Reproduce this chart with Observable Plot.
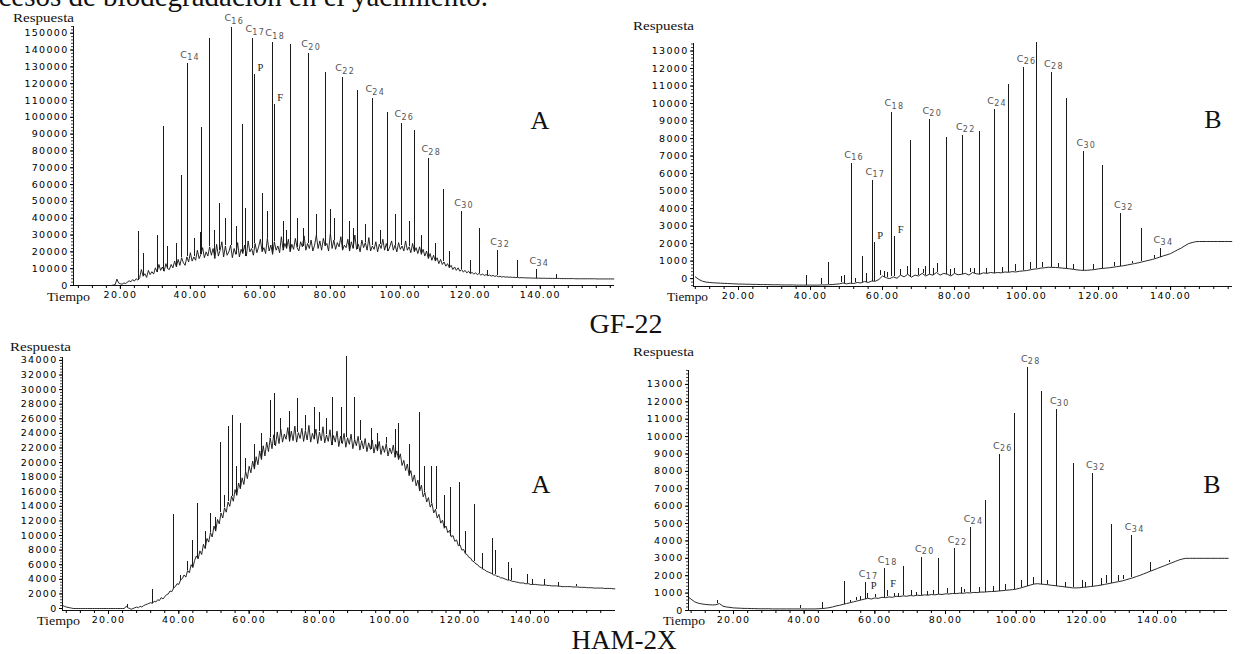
<!DOCTYPE html>
<html><head><meta charset="utf-8">
<script src="https://cdn.jsdelivr.net/npm/d3@7"></script>
<script src="https://cdn.jsdelivr.net/npm/@observablehq/plot@0.6"></script>
<style>
body{margin:0;background:#fff}
#wrap{position:relative;width:1241px;height:654px;overflow:hidden;background:#fff}
#wrap svg{position:absolute;overflow:visible}
</style></head><body><div id="wrap"></div>
<script>
// ---------- shared tick values ----------
const xTickLabels = [20, 40, 60, 80, 100, 120, 140];
const xMinorTicks = [8,12,16,20,24,28,32,36,40,44,48,52,56,60,64,68,72,76,80,84,88,92,96,100,104,108,112,116,120,124,128,132,136,140,144,148,152,156,160];

// ---------- GF-22 A (top left) : trace in thousands, every 0.5 min from 16 ----------
const tlStart = 16, tlStep = 0.5, tlUnit = 1000;
const tlValues = [0,0,0,0,0.3,0.5,3.8,1.5,1.0,0.8,
 1.5,1.2,2.0,2.8,2.2,3.5,2.6,4.0,3.2,4.5,
 9.5,5.5,7.0,4.8,9.0,6.5,8.2,6.8,10.5,8.0,
 12.5,9.0,11.0,8.5,13.0,10.0,9.5,12.5,10.5,14.5,
 11.0,15.5,12.0,16.5,13.5,12.0,17.0,14.0,19.5,14.5,
 17.0,15.0,21.0,16.0,18.5,22.5,16.5,20.0,17.5,23.0,
 18.0,22.0,16.0,24.5,17.5,21.0,26.0,17.0,23.5,18.0,
 20.0,24.0,16.5,22.0,18.5,25.5,17.0,21.5,19.0,24.0,
 17.5,26.5,20.0,22.0,18.0,25.0,19.5,23.0,27.5,20.0,
 22.5,19.0,28.0,20.5,24.0,18.5,26.0,21.0,23.5,19.5,
 29.0,21.0,25.0,22.0,27.5,20.0,24.5,21.5,28.0,22.5,
 20.5,26.0,23.0,29.5,21.0,25.0,22.0,27.0,20.5,24.0,
 30.0,22.0,26.5,21.0,28.0,23.5,25.0,20.5,31.0,22.0,
 27.0,21.5,25.5,23.0,29.0,21.0,24.0,22.5,27.5,20.5,
 26.0,22.0,30.0,21.5,24.5,20.0,27.0,22.5,25.5,21.0,
 28.5,20.5,23.5,21.5,26.0,20.0,24.5,22.0,27.5,21.0,
 25.0,20.5,23.0,26.5,21.0,24.0,20.0,25.5,21.5,23.5,
 20.5,26.5,21.0,23.0,19.5,25.0,20.0,22.5,19.0,23.0,
 18.5,21.5,17.5,20.5,16.0,19.0,15.0,18.0,14.5,16.5,
 13.0,15.5,12.5,14.0,11.5,13.0,10.5,12.0,9.5,11.0,
 9.0,10.5,8.5,9.5,8.0,9.0,7.5,8.5,7.0,7.8,
 6.8,7.5,6.5,7.2,6.2,6.8,6.0,6.5,5.8,6.2,
 5.6,6.0,5.4,5.8,5.2,5.5,5.0,5.3,5.0,5.1,
 4.9,5.0,4.8,4.9,4.7,4.8,4.6,4.7,4.6,4.6,
 4.5,4.5,4.5,4.4,4.4,4.4,4.3,4.4,4.3,4.3,
 4.3,4.3,4.2,4.3,4.2,4.2,4.2,4.2,4.2,4.2,
 4.1,4.1,4.1,4.1,4.1,4.1,4.1,4.1,4.0,4.0,
 4.0,4.0,4.0,4.0,4.0,4.0,4.0,4.0,4.0,4.0,
 3.9,3.9,3.9,3.9,3.9,3.9,3.9,3.9,3.9,3.9,
 3.9];
const tlPeaks = [[25.2,32000],[26.6,19000],[30.5,30000],[32.3,94600],[33.6,23000],[36.0,25000],[37.4,65500],
 [39.1,132000,"C14"],[41.2,28000],[42.9,31500],[43.1,94000],[45.4,147000],[47.0,33000],[48.3,49000],[50.0,40000],[51.7,153600,"C16"],
 [53.2,35000],[54.9,95800],[55.8,46000],[57.7,147000,"C17"],[58.3,125600,"P"],[60.6,55000],[62.0,44000],[63.4,144600,"C18"],
 [64.0,107700,"F"],[66.5,38000],[67.4,33000],[68.6,143500],[70.5,40000],[72.2,34000],[73.7,138000,"C20"],[76.0,42000],[78.6,126800],
 [80.0,45000],[81.2,40000],[83.4,123800,"C22"],[85.5,38000],[86.6,34000],[87.7,116000],[90.0,36000],[92.0,111300,"C24"],
 [94.2,33000],[96.3,103000],[98.5,42000],[100.3,96400,"C26"],[102.5,38000],[104.0,92300],[106.0,30000],[108.0,75600,"C28"],
 [110.0,25000],[112.3,57100],[114.0,20000],[117.4,44000,"C30"],[120.0,15000],[122.5,34000],[125.0,9000],
 [127.7,20800,"C32"],[133.4,14900],[138.9,9500,"C34"],[144.6,6500]];
const tlYTicks = [0,10000,20000,30000,40000,50000,60000,70000,80000,90000,100000,110000,120000,130000,140000,150000];
const tlYMinor = d3.range(0, 154001, 2000);

// ---------- GF-22 B (top right) : every 1 min from 8 ----------
const trStart = 8, trStep = 1, trUnit = 1;
const trValues = [100,-50,-150,-200,-220,-240,-250,-260,-270,-280,
 -290,-300,-310,-310,-320,-320,-330,-330,-340,-340,
 -340,-350,-350,-350,-360,-360,-360,-360,-370,-370,
 -370,-370,-370,-370,-370,-360,-360,-350,-340,-320,
 -300,-250,-300,-260,-280,-220,-250,-160,-220,-140,
 -150,-50,150,50,0,100,20,200,100,250,
 80,200,150,300,150,250,200,350,200,300,
 250,150,300,220,250,300,200,350,280,250,
 330,300,350,320,350,330,380,360,400,380,
 420,440,460,500,540,560,600,620,650,640,
 640,620,600,580,560,530,500,480,470,480,
 500,520,560,580,600,620,650,680,710,740,
 780,820,860,900,950,1000,1050,1100,1160,1230,
 1300,1360,1430,1540,1650,1750,1880,2000,2060,2110,
 2120,2120,2120,2120,2120,2120,2120,2120,2120,2120];
const trPeaks = [[38.9,200],[43.0,0],[45.1,900],[48.5,100],[49.5,150],[51.3,6570,"C16"],[52.6,0],[54.4,1250],[55.5,300],
 [57.2,5600,"C17"],[57.7,2050,"P"],[59.5,450],[60.5,400],[61.4,350],[62.5,9500,"C18"],[63.4,2400,"F"],[65.0,500],[66.8,700],
 [67.9,7900],[70.0,600],[71.3,500],[72.0,700],[73.0,9080,"C20"],[74.2,600],[75.3,860],[77.7,8040],[79.0,500],[80.0,600],[82.3,8170,"C22"],
 [84.5,600],[85.6,550],[86.8,8400],[89.0,600],[91.0,9660,"C24"],[93.2,650],[95.0,11080],[97.0,800],[99.2,12060,"C26"],[101.0,900],
 [102.8,13490],[104.5,900],[106.8,11770,"C28"],[109.0,850],[111.0,10290],[113.0,800],[115.8,7260,"C30"],
 [118.6,800],[121.1,6460],[124.5,900],[126.2,3700,"C32"],[129.5,1000],[131.8,2860],[135.5,1300],[137.2,1700,"C34"]];
const trYTicks = [0,1000,2000,3000,4000,5000,6000,7000,8000,9000,10000,11000,12000,13000];
const trYMinor = d3.range(-400, 13401, 200);

// ---------- HAM-2X A (bottom left) : trace in thousands, every 0.5 min from 7 ----------
const blStart = 7, blStep = 0.5, blUnit = 1000;
const blValues = [0.4,0.3,0.2,0.15,0.1,0.05,0,0,0,0,
 0,0,0,0,0,0,0,0,0,0,
 0,0,0,0,0,0,0,0,0,0,
 0,0,0,0,0,0,0.3,0.1,0,-0.1,
 0,0.1,0.2,0.1,0.3,0.2,0.4,0.5,0.6,0.7,
 0.8,0.7,1.0,0.9,1.2,1.1,1.5,1.3,1.6,1.9,
 2.0,2.4,2.3,2.8,3.0,3.4,3.3,3.9,4.1,4.6,
 4.3,5.2,4.9,6.0,5.6,6.6,7.2,6.8,7.9,7.4,
 8.8,8.2,9.6,9.1,10.4,9.8,11.3,10.6,12.2,11.6,
 13.1,12.4,13.8,13.2,14.6,14.0,15.4,14.7,16.3,15.5,
 17.2,16.4,17.9,17.0,18.8,17.8,19.5,18.6,20.2,19.1,
 20.8,19.7,21.6,20.4,22.3,20.9,22.8,21.5,23.4,21.9,
 23.8,22.3,24.2,22.6,24.6,22.8,23.9,23.2,24.8,22.9,
 24.3,23.0,25.0,22.8,24.1,23.3,24.7,22.9,24.4,23.1,
 25.1,22.8,24.0,23.2,24.6,22.6,24.2,23.0,24.9,22.7,
 23.8,22.9,24.5,22.4,23.7,22.8,24.3,22.2,23.6,22.6,
 24.0,22.1,23.4,22.5,23.9,21.9,23.2,22.3,23.6,21.7,
 23.0,21.9,23.3,21.5,22.7,21.8,23.1,21.3,22.5,21.6,
 22.9,21.1,22.3,21.4,22.6,20.9,22.0,21.2,22.4,20.7,
 21.6,20.4,21.2,19.6,20.3,18.9,19.8,18.2,18.9,17.4,
 18.3,16.8,17.6,16.1,16.9,15.3,15.9,14.6,15.2,13.9,
 14.4,13.1,13.6,12.4,12.9,11.7,12.1,11.0,11.3,10.4,
 10.7,9.8,10.0,9.2,9.4,8.6,8.7,8.0,8.1,7.5,
 7.4,7.0,6.9,6.5,6.4,6.1,6.0,5.7,5.6,5.4,
 5.3,5.1,5.0,4.9,4.8,4.6,4.6,4.4,4.4,4.2,
 4.2,4.1,4.0,3.9,3.9,3.8,3.7,3.7,3.6,3.6,
 3.5,3.5,3.5,3.4,3.4,3.4,3.3,3.3,3.3,3.3,
 3.25,3.25,3.2,3.2,3.2,3.2,3.15,3.15,3.1,3.1,
 3.1,3.1,3.05,3.05,3.0,3.0,3.0,3.0,3.0,3.0,
 2.95,2.95,2.95,2.95,2.9,2.9,2.9,2.9,2.85,2.85,
 2.85,2.85,2.8,2.8,2.8,2.8,2.8,2.8,2.75,2.75,
 2.75,2.75,2.75,2.7,2.7];
const blPeaks = [[25.5,600],[32.5,2600],[38.6,12900],[40.5,4500],[42.5,6500],[43.8,9300],[45.3,14400],[47.5,10500],
 [49.0,13000],[50.5,12500],[51.8,22700],[53.0,15500],[54.2,25000],[55.2,26400],[56.5,19500],[57.6,25300],
 [59.0,20500],[61.5,22500],[63.5,24000],[66.0,28500],[67.3,29400],[69.0,26000],[71.5,27000],[73.8,28800],
 [76.0,26500],[78.5,27500],[80.0,26800],[82.0,26000],[83.6,28900],[86.4,27500],[87.8,34600],[90.1,28900],
 [91.8,25700],[94.7,24700],[96.5,24000],[99.0,23500],[101.5,24500],[102.6,25300],[105.5,22500],[108.5,26800],
 [110.0,19500],[112.0,19400],[113.2,19400],[115.5,15500],[117.4,16600],[119.7,17300],[121.5,10500],[124.2,14200],
 [126.5,7500],[129.3,9600],[130.0,8000],[133.9,6300],[134.5,5500],[139.3,4700],[140.5,4000],[144.0,4000],
 [148.0,3500],[153.0,3300]];
const blYTicks = [0,2000,4000,6000,8000,10000,12000,14000,16000,18000,20000,22000,24000,26000,28000,30000,32000,34000];
const blYMinor = d3.range(0, 34401, 400);

// ---------- HAM-2X B (bottom right) : every 1 min from 7 ----------
const brStart = 7, brStep = 1, brUnit = 1;
const brValues = [800,650,500,420,380,350,330,320,330,400,
 250,200,180,150,140,130,120,120,110,110,
 100,100,100,100,90,90,90,90,90,90,
 90,90,90,90,90,90,90,100,110,130,
 160,200,260,300,350,400,450,500,550,600,
 650,700,660,720,700,760,740,780,760,820,
 800,840,820,860,840,880,860,900,880,920,
 900,940,920,960,950,980,970,1000,990,1020,
 1010,1040,1030,1060,1060,1080,1090,1100,1120,1140,
 1160,1180,1200,1230,1280,1340,1400,1460,1520,1540,
 1520,1500,1480,1450,1430,1400,1380,1350,1330,1300,
 1300,1310,1330,1350,1380,1400,1430,1460,1500,1540,
 1580,1620,1660,1700,1760,1820,1880,1950,2020,2100,
 2180,2260,2340,2420,2500,2580,2660,2740,2820,2900,
 2960,3000,3000,3000,3000,3000,3000,3000,3000,3000,
 3000,3000,3000,3000];
const brPeaks = [[15.5,600],[39.0,300],[45.2,450],[51.4,1650],[53.0,600],[54.8,750],[56.0,800],[57.4,1600,"C17"],[58.0,1000,"P"],
 [60.2,900],[62.8,2400,"C18"],[63.5,1150,"F"],[65.5,1000],[66.7,1000],[68.2,2530],[70.5,1150],[71.8,1050],[73.3,3050,"C20"],
 [75.0,1100],[76.5,1150],[78.1,3000],[80.5,1250],[82.6,3560,"C22"],[84.5,1300],[85.5,1200],[87.1,4770,"C24"],[89.5,1350],
 [91.4,6320],[93.5,1400],[95.4,8970,"C26"],[97.0,1500],[99.6,11320],[101.5,1700],[103.3,13970,"C28"],[105.0,1900],
 [107.3,12590],[109.0,1700],[111.5,11550,"C30"],[114.0,1600],[116.3,8450],[118.8,1700],[119.5,1600],[121.7,7870,"C32"],
 [124.0,1850],[125.5,2000],[127.1,4940],[129.0,2000],[130.5,2000],[132.7,4310,"C34"],[136.0,2100],[138.1,2760],[143.5,2900]];
const brYTicks = [0,1000,2000,3000,4000,5000,6000,7000,8000,9000,10000,11000,12000,13000];
const brYMinor = d3.range(0, 13801, 200);

// ---------- build ----------
function panel(p) {
  const n = p.values.length;
  const trace = p.values.map((v, i) => ({t: p.start + i * p.step, v: v * p.unit}));
  const baseAt = t => trace[Math.max(0, Math.min(n - 1, Math.round((t - p.start) / p.step)))].v;
  const peaks = p.peaks.map(([t, v, lab]) => ({t, v, lab, b: baseAt(t)}));
  const cLabs = peaks.filter(d => d.lab && d.lab[0] === "C");
  const pf = peaks.filter(d => d.lab && d.lab[0] !== "C");
  const [x0, x1] = p.xDomain;
  const svg = Plot.plot({
    width: p.width, height: p.height,
    marginLeft: p.m[0], marginRight: p.m[1], marginTop: p.m[2], marginBottom: p.m[3],
    x: {domain: p.xDomain}, y: {domain: p.yDomain},
    style: {fontFamily: "'DejaVu Sans', sans-serif", fontSize: "9.5px", letterSpacing: "1.3px",
            color: "#000", background: "transparent", overflow: "visible"},
    marks: [
      Plot.ruleX([x0], {stroke: "#111"}),
      Plot.ruleY([p.yDomain[0]], {stroke: "#111"}),
      Plot.axisY({ticks: p.yMinor, tickSize: 2, tickFormat: () => "", label: null, stroke: "#444"}),
      Plot.axisY({ticks: p.yTicks, tickSize: 3, tickPadding: 2, tickFormat: "d", label: null}),
      Plot.axisX({ticks: xTickLabels, tickSize: 4, tickPadding: 2, tickFormat: d => d.toFixed(2), label: null}),
      Plot.axisX({ticks: xMinorTicks.filter(t => t >= x0 && t <= x1), tickSize: 3, tickFormat: () => "", label: null}),
      Plot.line(trace, {x: "t", y: "v", stroke: "#111", strokeWidth: 0.9}),
      Plot.ruleX(peaks, {x: "t", y1: "b", y2: "v", stroke: "#1a1a1a", strokeWidth: 1, shapeRendering: "crispEdges"}),
      Plot.text(cLabs, {x: "t", y: "v", text: () => "C", textAnchor: "end", dx: 1, dy: -9, fontSize: 9.5, fill: "#555"}),
      Plot.text(cLabs, {x: "t", y: "v", text: d => d.lab.slice(1), textAnchor: "start", dx: 0, dy: -6, fontSize: 8, fill: "#555"}),
      Plot.text(pf, {x: "t", y: "v", text: "lab", textAnchor: "start", dx: 3, dy: -7,
                     fontFamily: "'Liberation Serif', serif", fontSize: 10.5, fill: "#222"})
    ]
  });
  svg.style.left = p.left + "px";
  svg.style.top = p.top + "px";
  return svg;
}

const wrap = document.getElementById("wrap");
wrap.append(panel({values: tlValues, start: tlStart, step: tlStep, unit: tlUnit, peaks: tlPeaks,
  xDomain: [6.6, 161.2], yDomain: [0, 154000], yTicks: tlYTicks, yMinor: tlYMinor,
  width: 640, height: 310, m: [73, 26, 26, 25], left: 0, top: 0}));
wrap.append(panel({values: trValues, start: trStart, step: trStep, unit: trUnit, peaks: trPeaks,
  xDomain: [7.5, 157.2], yDomain: [-450, 13430], yTicks: trYTicks, yMinor: trYMinor,
  width: 601, height: 310, m: [53, 9, 43, 24], left: 640, top: 0}));
wrap.append(panel({values: blValues, start: blStart, step: blStep, unit: blUnit, peaks: blPeaks,
  xDomain: [6.92, 164.2], yDomain: [-274, 34400], yTicks: blYTicks, yMinor: blYMinor,
  width: 640, height: 300, m: [62, 25, 27, 20], left: 0, top: 330}));
wrap.append(panel({values: brValues, start: brStart, step: brStep, unit: brUnit, peaks: brPeaks,
  xDomain: [7.26, 159.8], yDomain: [0, 13800], yTicks: brYTicks, yMinor: brYMinor,
  width: 601, height: 300, m: [48, 14, 40, 20], left: 640, top: 330}));

// ---------- overlay texts ----------
const texts = [
  {s: "cesos de biodegradación en el yacimiento.", x: 488, y: 6, size: 29, anchor: "end"},
  {s: "Respuesta", x: 13, y: 22, size: 12, len: 61}, {s: "Respuesta", x: 633, y: 30, size: 12.5, len: 61},
  {s: "Respuesta", x: 10, y: 351, size: 12.5, len: 61}, {s: "Respuesta", x: 633, y: 356, size: 12.5, len: 61},
  {s: "Tiempo", x: 47, y: 301, size: 12.5, len: 43}, {s: "Tiempo", x: 667, y: 301, size: 12.5, len: 41},
  {s: "Tiempo", x: 37, y: 625, size: 12.5, len: 43}, {s: "Tiempo", x: 663, y: 625, size: 12.5, len: 42},
  {s: "A", x: 540, y: 129, size: 26, anchor: "middle"}, {s: "B", x: 1213, y: 128, size: 26, anchor: "middle"},
  {s: "A", x: 541, y: 493, size: 26, anchor: "middle"}, {s: "B", x: 1212, y: 493, size: 26, anchor: "middle"},
  {s: "GF-22", x: 626, y: 333, size: 28, anchor: "middle"},
  {s: "HAM-2X", x: 624, y: 649, size: 27, anchor: "middle"}
];
const ov = d3.create("svg").attr("width", 1241).attr("height", 654)
  .style("left", "0px").style("top", "0px").style("pointer-events", "none");
ov.selectAll("text").data(texts).join("text")
  .attr("x", d => d.x).attr("y", d => d.y)
  .attr("text-anchor", d => d.anchor || "start")
  .attr("font-family", "'Liberation Serif', 'Times New Roman', serif")
  .attr("font-size", d => d.size).attr("fill", "#111")
  .attr("textLength", d => d.len || null)
  .attr("lengthAdjust", d => d.len ? "spacingAndGlyphs" : null)
  .text(d => d.s);
wrap.append(ov.node());
</script>
</body></html>
